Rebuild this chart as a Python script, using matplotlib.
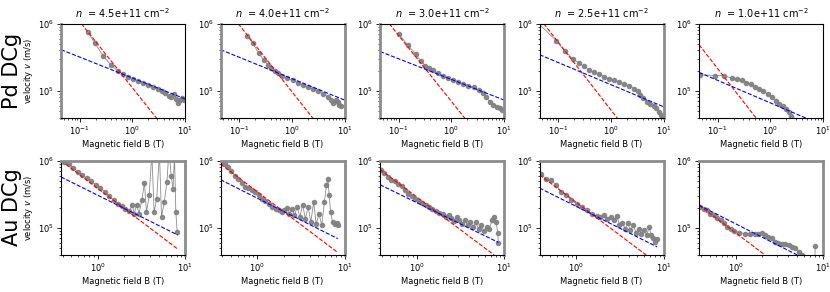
import matplotlib.pyplot as plt

densities = ["4.5e+11", "4.0e+11", "3.0e+11", "2.5e+11", "1.0e+11"]
rows = ["Pd DCg", "Au DCg"]

# Pd DCg: measured velocity vs field
pd_B = [
    [0.143, 0.195, 0.283, 0.39, 0.53, 0.66, 0.82, 1.03, 1.29, 1.61, 2.01, 2.51, 3.05,
     3.64, 4.22, 4.9, 5.5, 6.1, 6.8, 7.43, 8.1, 8.9, 9.7],
    [0.139, 0.181, 0.233, 0.292, 0.348, 0.404, 0.47, 0.545, 0.66, 0.82, 1.03, 1.29, 1.61,
     2.01, 2.51, 3.14, 3.94, 4.76, 5.5, 6.1, 6.8, 7.43, 8.0, 8.6],
    [0.1, 0.151, 0.21, 0.262, 0.318, 0.381, 0.455, 0.552, 0.69, 0.86, 1.08, 1.35, 1.69,
     2.1, 2.63, 3.3, 4.0, 4.6, 5.35, 6.2, 7.2, 8.4, 9.3],
    [0.040, 0.092, 0.134, 0.192, 0.247, 0.314, 0.387, 0.47, 0.586, 0.73, 0.91, 1.14, 1.43,
     1.78, 2.22, 2.79, 3.24, 3.58, 4.15, 4.83, 5.6, 6.5, 7.3, 8.2, 9.0, 9.9],
    [0.045, 0.089, 0.133, 0.184, 0.233, 0.287, 0.348, 0.42, 0.503, 0.60, 0.73, 0.885,
     1.06, 1.27, 1.47, 1.71, 1.98, 2.22, 2.51, 2.74],
]
pd_v = [
    [7.42e5, 5.14e5, 3.25e5, 2.44e5, 1.98e5, 1.79e5, 1.60e5, 1.49e5, 1.41e5, 1.31e5,
     1.21e5, 1.13e5, 1.05e5, 1.0e5, 9.28e4, 8.44e4, 8.2e4, 9.0e4, 7.5e4, 6.5e4, 7.4e4,
     7.8e4, 7.4e4],
    [6.6e5, 5.14e5, 3.65e5, 2.9e5, 2.44e5, 2.18e5, 1.98e5, 1.83e5, 1.67e5, 1.53e5,
     1.43e5, 1.33e5, 1.23e5, 1.13e5, 1.06e5, 9.8e4, 9.0e4, 8.2e4, 7.3e4, 6.5e4, 7.3e4,
     6.9e4, 6.2e4, 6.0e4],
    [7.0e5, 4.75e5, 3.53e5, 2.8e5, 2.37e5, 2.18e5, 2.01e5, 1.83e5, 1.67e5, 1.54e5,
     1.46e5, 1.36e5, 1.27e5, 1.2e5, 1.13e5, 1.03e5, 9.2e4, 8.0e4, 6.9e4, 6.2e4, 5.8e4,
     5.5e4, 5.2e4],
    [1.05e6, 5.57e5, 3.86e5, 2.97e5, 2.58e5, 2.31e5, 2.06e5, 1.92e5, 1.78e5, 1.63e5,
     1.51e5, 1.43e5, 1.36e5, 1.27e5, 1.19e5, 1.08e5, 9.8e4, 8.8e4, 7.8e4, 6.9e4, 6.4e4,
     6.0e4, 5.5e4, 4.9e4, 4.4e4, 3.9e4],
    [1.74e5, 1.69e5, 1.69e5, 1.54e5, 1.49e5, 1.43e5, 1.33e5, 1.25e5, 1.16e5, 1.07e5,
     9.8e4, 8.9e4, 8.03e4, 7.16e4, 6.39e4, 5.9e4, 5.4e4, 4.8e4, 4.2e4, 3.7e4],
]
pd_red_B = [[0.108, 2.9], [0.096, 2.51], [0.066, 1.81], [0.053, 1.33], [0.0442, 0.54]]
pd_red_v = [[1e6, 3.9e4], [1e6, 3.9e4], [1e6, 3.9e4], [1e6, 3.9e4], [4.85e5, 3.9e4]]
pd_blue_B = [[0.0442, 10], [0.0442, 10], [0.0442, 10], [0.0442, 10], [0.0442, 4.83]]
pd_blue_v = [[4.1e5, 7.6e4], [4.1e5, 7.3e4], [3.85e5, 7.3e4], [3.45e5, 5.8e4], [1.88e5, 3.9e4]]

# Au DCg
au_B = [
    [0.412, 0.464, 0.521, 0.59, 0.664, 0.746, 0.846, 0.951, 1.07, 1.21, 1.36, 1.53, 1.70,
     1.90, 2.08, 2.27, 2.49, 2.62, 2.79, 2.98, 3.2, 3.43, 3.62, 3.89, 4.17, 4.43, 4.74,
     5.10, 5.38, 5.78, 6.21, 6.56, 6.93, 7.29, 7.58, 7.85, 8.13],
    [0.387, 0.424, 0.464, 0.507, 0.555, 0.607, 0.664, 0.726, 0.794, 0.869, 0.951, 1.04,
     1.14, 1.24, 1.36, 1.49, 1.63, 1.78, 1.92, 2.04, 2.19, 2.31, 2.49, 2.67, 2.87, 3.08,
     3.31, 3.56, 3.83, 4.11, 4.43, 4.74, 5.10, 5.48, 5.88, 6.21, 6.45, 6.67, 6.93, 7.29,
     7.71, 8.13, 8.36],
    [0.39, 0.427, 0.468, 0.512, 0.56, 0.613, 0.671, 0.734, 0.803, 0.879, 0.962, 1.05,
     1.15, 1.26, 1.38, 1.51, 1.65, 1.81, 1.98, 2.16, 2.33, 2.49, 2.67, 2.87, 3.08, 3.31,
     3.56, 3.83, 4.11, 4.43, 4.74, 5.10, 5.48, 5.88, 6.32, 6.80, 7.29, 7.71, 8.13, 8.44,
     8.6],
    [0.39, 0.447, 0.512, 0.586, 0.671, 0.766, 0.879, 1.01, 1.15, 1.32, 1.51, 1.72, 1.89,
     2.06, 2.25, 2.47, 2.70, 2.94, 3.12, 3.37, 3.63, 3.90, 4.17, 4.50, 4.82, 5.18, 5.53,
     5.98, 6.45, 6.80, 7.20, 7.58, 7.97, 8.44],
    [0.39, 0.427, 0.468, 0.512, 0.56, 0.613, 0.671, 0.734, 0.803, 0.879, 0.962, 1.10,
     1.26, 1.44, 1.65, 1.81, 1.98, 2.16, 2.36, 2.58, 2.82, 3.08, 3.37, 3.70, 4.04, 4.43,
     4.82, 5.27, 5.76, 6.3, 7.0, 7.6, 8.0, 8.13],
]
au_v = [
    [9.67e5, 8.83e5, 7.88e5, 6.88e5, 6.14e5, 5.48e5, 4.89e5, 4.37e5, 3.9e5, 3.4e5,
     2.97e5, 2.56e5, 2.29e5, 2.09e5, 1.93e5, 1.76e5, 2.16e5, 1.63e5, 2.21e5, 1.63e5,
     2.56e5, 4.68e5, 1.72e5, 3.04e5, 1.3e6, 1.72e5, 2.71e5, 1.3e6, 1.45e5, 2.42e5,
     4.78e5, 1.5e6, 6.0e5, 3.81e5, 1.2e6, 1.72e5, 8.7e4],
    [9.68e5, 8.8e5, 7.9e5, 7.0e5, 6.0e5, 5.36e5, 4.67e5, 4.04e5, 3.9e5, 3.6e5, 3.4e5,
     3.04e5, 2.71e5, 2.48e5, 2.27e5, 2.06e5, 1.93e5, 1.82e5, 1.72e5, 1.82e5, 1.97e5,
     1.63e5, 1.93e5, 1.54e5, 2.04e5, 1.45e5, 2.2e5, 1.37e5, 2.04e5, 1.22e5, 2.42e5,
     1.12e5, 1.63e5, 1.09e5, 2.42e5, 4.27e5, 5.36e5, 3.04e5, 1.72e5, 1.22e5, 1.12e5,
     1.16e5, 1.09e5],
    [7.36e5, 6.6e5, 5.67e5, 5.2e5, 4.9e5, 4.52e5, 4.17e5, 3.6e5, 3.22e5, 2.97e5,
     2.71e5, 2.5e5, 2.35e5, 2.16e5, 2.02e5, 1.9e5, 1.79e5, 1.68e5, 1.59e5, 1.45e5,
     1.57e5, 1.42e5, 1.26e5, 1.45e5, 1.3e5, 1.12e5, 1.3e5, 1.09e5, 1.22e5, 1.03e5,
     1.2e5, 9.75e4, 1.09e5, 9.0e4, 1.03e5, 9.75e4, 1.3e5, 1.45e5, 1.22e5, 8.5e4, 6.0e4],
    [6.35e5, 5.36e5, 5.06e5, 4.4e5, 3.4e5, 3.04e5, 2.56e5, 2.29e5, 2.04e5, 1.82e5,
     1.63e5, 1.5e5, 1.45e5, 1.54e5, 1.34e5, 1.45e5, 1.3e5, 1.5e5, 1.09e5, 1.18e5,
     9.75e4, 1.16e5, 9.2e4, 1.09e5, 8.5e4, 9.75e4, 8.2e4, 9.2e4, 7.77e4, 1.03e5,
     7.77e4, 7.1e4, 6.2e4, 6.8e4],
    [2.04e5, 1.93e5, 1.82e5, 1.63e5, 1.54e5, 1.4e5, 1.3e5, 1.16e5, 1.03e5, 9.75e4,
     9.0e4, 8.5e4, 8.22e4, 8.0e4, 8.0e4, 8.22e4, 8.5e4, 7.77e4, 7.34e4, 6.94e4, 6.2e4,
     5.86e4, 5.7e4, 5.7e4, 5.53e4, 5.2e4, 4.94e4, 4.4e4, 3.9e4, 3.4e4, 3.0e4, 2.8e4,
     2.5e4, 5.4e4],
]
au_red_B = [[0.38, 8.3], [0.38, 8.36], [0.38, 7.7], [0.38, 6.32], [0.38, 2.16]]
au_red_v = [[1e6, 4.8e4], [8.9e5, 4.3e4], [7.36e5, 3.94e4], [6.14e5, 3.94e4], [2.16e5, 3.94e4]]
au_blue_B = [[0.38, 8.3], [0.38, 8.36], [0.38, 8.6], [0.38, 8.44], [0.38, 5.06]]
au_blue_v = [[5.7e5, 7.8e4], [5.2e5, 6.9e4], [4.37e5, 6.07e4], [3.9e5, 5.2e4], [2.16e5, 3.94e4]]

fig = plt.figure(figsize=(8.3, 2.92), dpi=100)

data = [(pd_B, pd_v, pd_red_B, pd_red_v, pd_blue_B, pd_blue_v),
        (au_B, au_v, au_red_B, au_red_v, au_blue_B, au_blue_v)]
bottoms = [0.596, 0.127]
xlims = [(0.0442, 10), (0.38, 10)]
# edges that look thick and gray in the original
gray_edges = [[["left"], ["left", "right"], ["left", "right"], ["right"], []],
              [["top", "right"]] * 5]

for r in range(2):
    B, v, rB, rv, bB, bv = data[r]
    for i in range(5):
        ax = fig.add_axes([0.0735 + 0.1922 * i, bottoms[r], 0.1494, 0.323])
        ax.plot(B[i], v[i], '-o', color='gray', ms=3, lw=0.6, alpha=0.9)
        ax.plot(rB[i], rv[i], 'r--', lw=0.8)
        ax.plot(bB[i], bv[i], 'b--', lw=0.8)
        ax.set_xscale('log')
        ax.set_yscale('log')
        ax.set_xlim(*xlims[r])
        ax.set_ylim(3.95e4, 1e6)
        ax.tick_params(which='major', labelsize=6, length=3, width=0.6, pad=2)
        ax.tick_params(which='minor', length=1.6, width=0.5)
        ax.set_xlabel("Magnetic field B (T)", fontsize=6, labelpad=2)
        for side in gray_edges[r][i]:
            ax.spines[side].set_color('#8c8c8c')
            ax.spines[side].set_linewidth(2)
        if r == 0:
            ax.set_title(r"$n$  = " + densities[i] + r" cm$^{-2}$", fontsize=7, pad=4)
        if i == 0:
            ax.set_ylabel(r"velocity $v$ (m/s)", fontsize=6, labelpad=2)

fig.text(0.015, 0.757, rows[0], fontsize=15, rotation=90, ha='center', va='center')
fig.text(0.015, 0.29, rows[1], fontsize=15, rotation=90, ha='center', va='center')

fig.savefig('out.png', dpi=100)
